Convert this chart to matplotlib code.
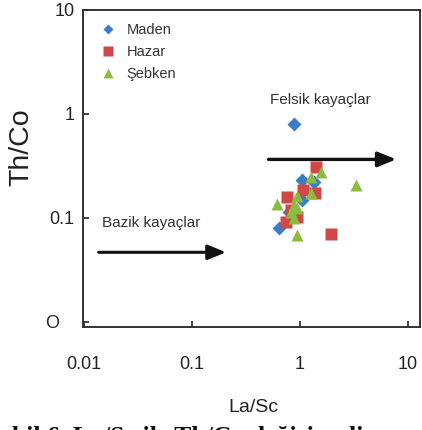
import matplotlib
matplotlib.use("Agg")
import matplotlib.pyplot as plt
from matplotlib import font_manager

names = {f.name for f in font_manager.fontManager.ttflist}
narrow = "Liberation Sans Narrow" if "Liberation Sans Narrow" in names else "Liberation Sans"

# Data
maden_x = [0.875, 0.64, 1.04, 1.36, 1.04, 0.80]
maden_y = [0.80, 0.080, 0.23, 0.22, 0.149, 0.115]

hazar_x = [1.41, 1.06, 1.38, 0.76, 0.95, 0.74, 1.94, 0.83]
hazar_y = [0.307, 0.186, 0.173, 0.16, 0.103, 0.092, 0.070, 0.119]

sebken_x = [1.56, 1.27, 3.30, 0.61, 0.95, 1.27, 0.875, 0.95, 0.83, 0.89, 0.94]
sebken_y = [0.279, 0.246, 0.207, 0.136, 0.163, 0.173, 0.133, 0.125, 0.115, 0.10, 0.069]

x_ticks = [0.01, 0.1, 1, 10]
x_ticklabels = ["0.01", "0.1", "1", "10"]
y_ticks = [0.01, 0.1, 1, 10]
y_ticklabels = ["O   ", "0.1", "1", "10"]

fig = plt.figure(figsize=(4.22, 4.30), dpi=100)
ax = fig.add_axes([83/422, 1-327/430, 337/422, 317/430])
ax.set_xscale("log")
ax.set_yscale("log")
ax.set_xlim(0.0098, 13.0)
ax.set_ylim(0.00895, 10)

ax.plot(maden_x, maden_y, "D", color="#3b7dc8", ms=7.0, mec="none", label="Maden", zorder=3)
ax.plot(hazar_x, hazar_y, "s", color="#d04848", ms=8.5, mec="none", label="Hazar", zorder=3)
ax.plot(sebken_x, sebken_y, "^", color="#8cbb3e", ms=9, mec="none", label="Şebken", zorder=4)

ax.set_xticks(x_ticks)
ax.set_xticklabels(x_ticklabels)
ax.set_yticks(y_ticks)
ax.set_yticklabels(y_ticklabels)
ax.minorticks_off()
ax.tick_params(axis="both", direction="in", length=4, width=1.3, color="#333333",
               labelsize=13, labelcolor="#222222")
ax.tick_params(axis="x", pad=21)
ax.tick_params(axis="y", pad=6)
for lab in ax.get_xticklabels() + ax.get_yticklabels():
    lab.set_fontfamily(narrow)
for sp in ax.spines.values():
    sp.set_linewidth(1.4)
    sp.set_color("#333333")

leg = ax.legend(loc="upper left", bbox_to_anchor=(0.0, 1.0), frameon=False,
                handletextpad=0.5, labelspacing=0.55, handlelength=1.6, markerscale=0.8,
                prop={"family": "Liberation Sans", "size": 10.5})
for t in leg.get_texts():
    t.set_color("#333333")

# Arrows and annotations
ax.annotate("", xy=(0.22, 0.0468), xytext=(0.0129, 0.0468),
            arrowprops=dict(arrowstyle="-|>,head_length=1.1,head_width=0.45", color="#111111", lw=2.2))
ax.annotate("", xy=(8.3, 0.366), xytext=(0.484, 0.366),
            arrowprops=dict(arrowstyle="-|>,head_length=1.1,head_width=0.45", color="#111111", lw=2.4))
ax.text(0.0417, 0.0896, "Bazik kayaçlar", fontsize=11, family=narrow, color="#333333",
        ha="center", va="center")
ax.text(1.55, 1.36, "Felsik kayaçlar", fontsize=11, family=narrow, color="#333333",
        ha="center", va="center")

fig.text(21/422, 1-147/430, "Th/Co", rotation=90, ha="center", va="center",
         fontsize=20.5, family="Liberation Sans", color="#222222")
fig.text(253/422, 1-408/430, "La/Sc", ha="center", va="center",
         fontsize=14, family=narrow, color="#222222")
fig.text(-14/422, 1-426/430, "Şekil 6. La/Sc ile Th/Co değişim diyagramı", ha="left", va="top",
         fontsize=18.5, family="Liberation Serif", weight="bold", color="#111111")

fig.savefig("out.png", dpi=100)
